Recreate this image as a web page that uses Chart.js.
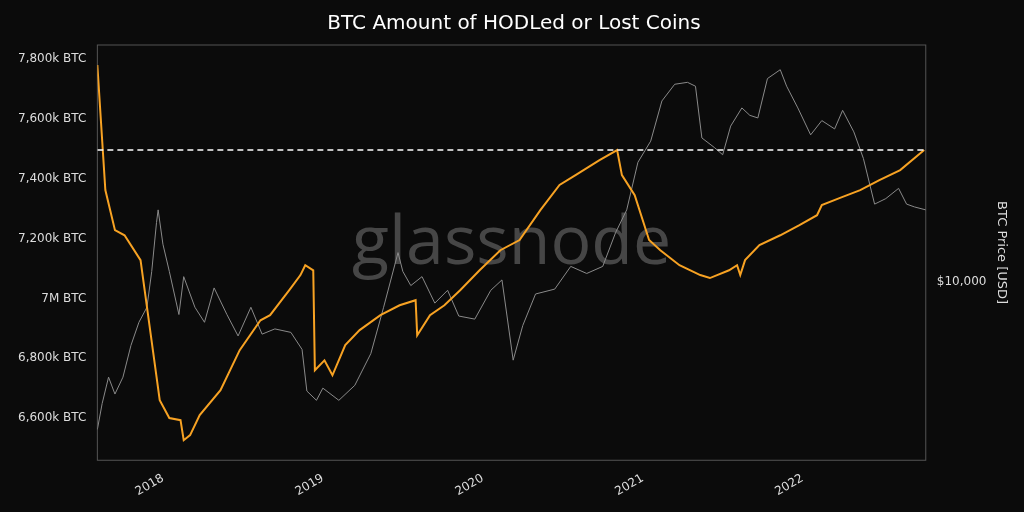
<!DOCTYPE html>
<html><head><meta charset="utf-8">
<script src="https://cdn.jsdelivr.net/npm/chart.js@4"></script>
<style>html,body{margin:0;background:#0b0b0b}#w{width:1024px;height:512px}</style>
</head><body><div id="w"><canvas id="c"></canvas></div>
<script>
const hodlYears=[2017.59,2017.64,2017.70,2017.76,2017.86,2017.92,2017.98,2018.04,2018.11,2018.13,2018.17,2018.23,2018.36,2018.48,2018.61,2018.67,2018.79,2018.86,2018.89,2018.94,2018.95,2019.01,2019.06,2019.14,2019.23,2019.36,2019.48,2019.58,2019.59,2019.67,2019.76,2019.86,2019.98,2020.11,2020.23,2020.36,2020.48,2020.58,2020.73,2020.84,2020.87,2020.95,2021.04,2021.11,2021.23,2021.36,2021.42,2021.54,2021.59,2021.61,2021.64,2021.73,2021.86,2021.98,2022.09,2022.12,2022.23,2022.36,2022.48,2022.61,2022.76];
const hodlK=[7780,7362,7228,7211,7128,6894,6660,6600,6593,6526,6543,6610,6693,6827,6927,6944,7028,7078,7111,7094,6760,6793,6743,6844,6894,6944,6977,6994,6877,6944,6977,7028,7094,7161,7195,7295,7379,7412,7462,7496,7412,7345,7195,7161,7111,7078,7068,7094,7111,7078,7128,7178,7211,7245,7278,7312,7335,7362,7395,7429,7496];
const priceYears=[2017.59,2017.62,2017.66,2017.70,2017.75,2017.80,2017.85,2017.90,2017.93,2017.96,2017.97,2018.00,2018.04,2018.10,2018.13,2018.20,2018.26,2018.32,2018.40,2018.47,2018.55,2018.62,2018.70,2018.80,2018.87,2018.90,2018.96,2019.00,2019.10,2019.20,2019.30,2019.38,2019.47,2019.50,2019.55,2019.62,2019.70,2019.78,2019.85,2019.95,2020.05,2020.12,2020.19,2020.25,2020.33,2020.45,2020.55,2020.65,2020.75,2020.83,2020.90,2020.97,2021.05,2021.12,2021.20,2021.28,2021.33,2021.37,2021.45,2021.50,2021.55,2021.62,2021.67,2021.72,2021.78,2021.86,2021.90,2021.97,2022.05,2022.12,2022.20,2022.25,2022.32,2022.38,2022.45,2022.52,2022.60,2022.65,2022.70,2022.77];
const priceUSD=[2700,3400,4300,3700,4300,5700,7000,8000,11000,17000,19000,14000,11000,7500,10500,8000,7000,9500,7500,6200,8000,6300,6600,6400,5500,3800,3500,3900,3500,4000,5300,8000,13000,11000,9700,10500,8300,9300,7400,7200,9300,10200,5000,6800,9000,9400,11500,10800,11500,15500,19000,29000,35000,50000,58000,59000,57000,36000,33000,31000,40000,47000,44000,43000,61000,66000,57000,47000,37000,42000,39000,46000,38000,30000,20000,21000,23000,20000,19500,19000];
const yearTicks=[2018,2019,2020,2021,2022];
const refLevelK=7496;

const wm={id:'wm',beforeDatasetsDraw(ch){const a=ch.chartArea,c=ch.ctx;c.save();c.fillStyle='rgba(130,130,130,0.5)';c.font='68px "Open Sans"';c.textAlign='center';c.textBaseline='middle';c.fillText('glassnode',(a.left+a.right)/2,(a.top+a.bottom)/2-8);c.strokeStyle='#555';c.lineWidth=1;c.strokeRect(a.left,a.top,a.right-a.left,a.bottom-a.top);c.restore();}};

new Chart(document.getElementById('c'),{
type:'line',
data:{datasets:[
{data:priceYears.map((x,i)=>({x,y:priceUSD[i]})),yAxisID:'y1',borderColor:'#8a8a8a',borderWidth:1,pointRadius:0,tension:0,order:2},
{data:hodlYears.map((x,i)=>({x,y:hodlK[i]})),yAxisID:'y',borderColor:'#f7a223',borderWidth:2,pointRadius:0,tension:0,order:1},
{data:[{x:2017.59,y:refLevelK},{x:2022.77,y:refLevelK}],yAxisID:'y',borderColor:'#ffffff',borderWidth:1.5,borderDash:[6,4],pointRadius:0,order:0}
]},
options:{responsive:true,maintainAspectRatio:false,animation:false,
layout:{padding:{left:15,right:11,top:2,bottom:10}},
plugins:{legend:{display:false},tooltip:{enabled:false},
title:{display:true,text:'BTC Amount of HODLed or Lost Coins',color:'#ffffff',font:{family:'DejaVu Sans',size:20,weight:'normal'},padding:{top:10,bottom:9}}},
scales:{
x:{type:'linear',min:2017.59,max:2022.77,afterBuildTicks(s){s.ticks=yearTicks.map(v=>({value:v}));},
ticks:{color:'#ddd',font:{family:'DejaVu Sans',size:12},maxRotation:30,minRotation:30,callback:v=>String(v)},grid:{display:false},border:{display:false}},
y:{position:'left',min:6459,max:7847,afterBuildTicks(s){s.ticks=[6600,6800,7000,7200,7400,7600,7800].map(v=>({value:v}));},
ticks:{color:'#ddd',font:{family:'DejaVu Sans',size:12},callback:v=>v===7000?'7M BTC':(v/1000).toFixed(3).replace('.',',')+'k BTC'},grid:{display:false},border:{display:false}},
y1:{type:'logarithmic',position:'right',min:2055,max:82200,afterBuildTicks(s){s.ticks=[{value:10000}];},
ticks:{color:'#ddd',font:{family:'DejaVu Sans',size:12},callback:()=>'$10,000'},grid:{display:false},border:{display:false},
title:{display:true,text:'BTC Price [USD]',color:'#ddd',font:{family:'DejaVu Sans',size:13}}}
}},
plugins:[wm]
});
</script></body></html>
